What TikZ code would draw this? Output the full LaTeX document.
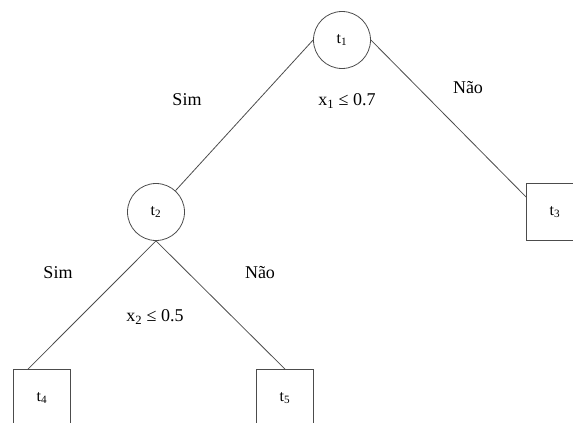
\documentclass[tikz,border=0pt]{standalone}
\usepackage{fontspec}
\setmainfont{Liberation Serif}
\begin{document}
\begin{tikzpicture}[x=1pt,y=-1pt,
  edge/.style={draw=black!70, line width=0.8pt},
  cnode/.style={circle, draw=black!70, line width=0.8pt, minimum size=57pt, inner sep=0pt, font=\fontsize{16}{18}\selectfont},
  leaf/.style={rectangle, draw=black!70, line width=0.8pt, minimum width=57pt, minimum height=57pt, inner sep=0pt, font=\fontsize{16}{18}\selectfont},
  lbl/.style={font=\fontsize{18}{20}\selectfont, inner sep=0pt}]
\useasboundingbox (0,0) rectangle (573,423);
\clip (0,0) rectangle (573,423);
\node[cnode] (t1) at (342,40) {t\textsubscript{1}};
\node[cnode] (t2) at (156,212) {t\textsubscript{2}};
\node[leaf] (t3) at (555,212) {t\textsubscript{3}};
\node[leaf] (t4) at (42,398) {t\textsubscript{4}};
\node[leaf] (t5) at (285,398) {t\textsubscript{5}};
\draw[edge] (t1.west) -- (t2);
\draw[edge] (t1.east) -- ([yshift=15pt]t3.west);
\draw[edge] (t2.south) -- ([xshift=-14pt]t4.north);
\draw[edge] (t2.south) -- (t5.north);
\node[lbl] (s1) at (187,100) {Sim};
\node[lbl] (c1) at (347,101) {x\textsubscript{1} ≤ 0.7};
\node[lbl] (n1) at (468,88) {Não};
\node[lbl] (s2) at (58,273) {Sim};
\node[lbl] (n2) at (260,273) {Não};
\node[lbl] (c2) at (155,317) {x\textsubscript{2} ≤ 0.5};
\end{tikzpicture}
\end{document}
